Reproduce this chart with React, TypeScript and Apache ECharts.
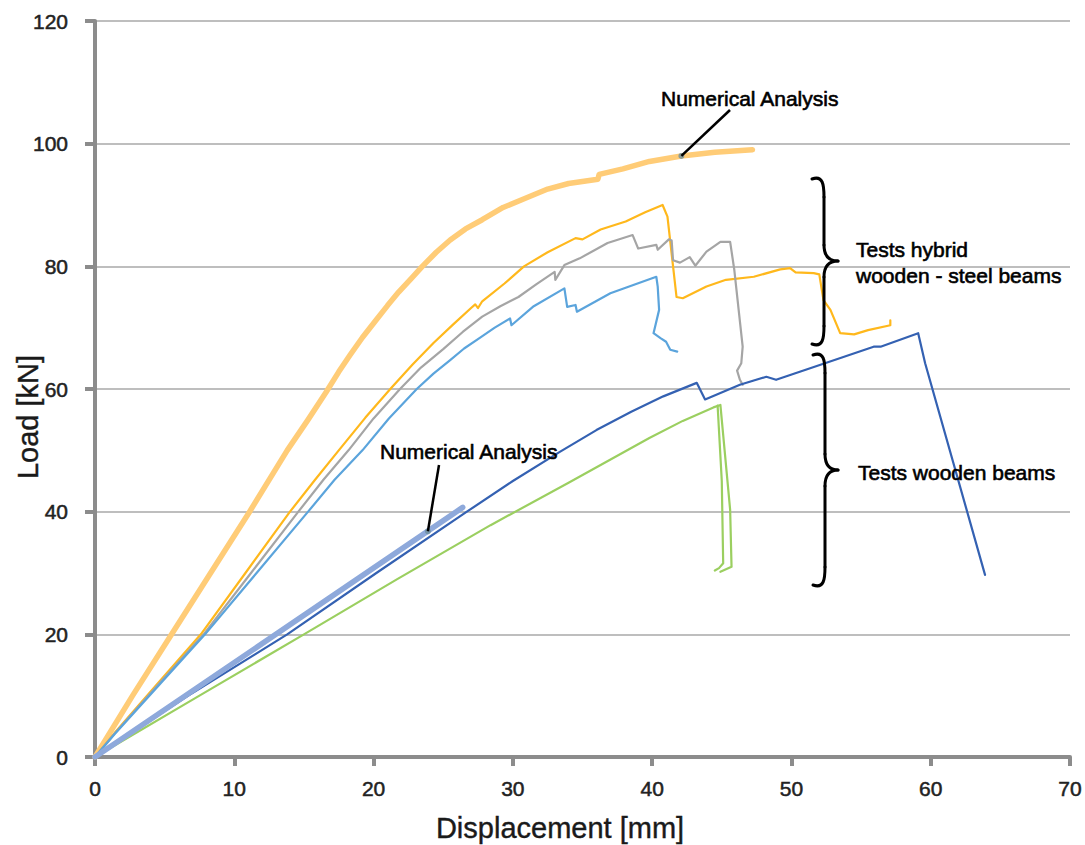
import React, { useEffect, useRef } from "react";
import * as echarts from "echarts";

// ---- Data (displacement mm, load kN) ----
const numUpper: number[][] = [
  [0, 0], [2.7, 10], [5.5, 20], [8.3, 30], [11.1, 40], [13.8, 50], [15.3, 55], [16.6, 59.5], [17.5, 62.8], [18.3, 65.5],
  [19.2, 68.4], [20.1, 71], [21.0, 73.6], [21.8, 75.8], [22.7, 78.0], [23.5, 80], [24.5, 82.3], [25.5, 84.3], [26.6, 86.1], [27.8, 87.6], [29.3, 89.6], [30.9, 91.1],
  [32.5, 92.6], [34.0, 93.5], [36.1, 94.2], [36.2, 95.0], [37.9, 95.9], [39.8, 97.1], [42.1, 98.0],
  [44.5, 98.6], [47.2, 99.0],
];
const hybOrange: number[][] = [
  [0, 0], [1.4, 3.9], [4.5, 12], [7.6, 20], [10.8, 30], [14.0, 40], [15.8, 45.2], [17.5, 50], [19.4, 55.3], [21.2, 60],
  [22.8, 64.0], [24.3, 67.5], [25.7, 70.5], [27.0, 73.2], [27.3, 73.8], [27.5, 73.2], [27.8, 74.3], [29.4, 77.2], [30.8, 80],
  [32.5, 82.3], [34.5, 84.6], [35.0, 84.4], [36.3, 86.0], [38.1, 87.3], [39.5, 88.8], [40.75, 90.0],
  [41.1, 88.1], [41.75, 75.0], [42.2, 74.8], [43.9, 76.7], [45.3, 77.8], [47.3, 78.3], [49.2, 79.5],
  [49.9, 79.7], [50.3, 79.0], [51.6, 78.9], [52.0, 78.7], [52.3, 74.5], [52.8, 72.9], [53.5, 69.1],
  [54.5, 68.9], [55.5, 69.6], [57.1, 70.4], [57.1, 71.2],
];
const hybGray: number[][] = [
  [0, 0], [1.4, 3.8], [4.6, 12], [7.8, 20], [11.2, 30], [14.6, 40], [16.4, 45.2], [18.2, 50], [20.0, 55.2], [21.9, 60], [23.4, 63.5],
  [25.0, 66.5], [26.4, 69.3], [27.8, 71.8], [29.1, 73.5], [30.4, 75.0], [31.7, 77.1], [33.0, 79.1], [33.05, 77.8], [33.7, 80.2], [34.8, 81.3],
  [36.8, 83.8], [38.6, 85.1], [39.0, 82.9], [40.3, 83.5], [40.4, 82.7], [41.2, 84.4], [41.4, 84.2],
  [41.5, 81.0], [42.0, 80.6], [42.7, 81.5], [43.1, 80.1], [43.9, 82.4], [44.9, 84.0], [45.6, 84.0],
  [45.9, 79.4], [46.5, 66.9], [46.4, 64.2], [46.1, 63.0], [46.3, 61.5], [46.5, 60.7],
];
const hybBlue: number[][] = [
  [0, 0], [1.4, 3.7], [4.7, 12], [7.9, 20], [11.6, 30], [15.3, 40], [17.2, 45.2], [19.2, 50], [21.1, 55.2], [23.1, 60], [24.3, 62.5],
  [25.5, 64.7], [26.5, 66.6], [27.6, 68.3], [28.7, 70.0], [29.8, 71.5], [29.9, 70.4], [31.5, 73.5], [33.7, 76.4], [33.9, 73.4],
  [34.5, 73.7], [34.6, 72.6], [37.0, 75.6], [38.7, 77.0], [40.3, 78.3], [40.4, 76.7], [40.5, 72.9],
  [40.1, 69.1], [40.6, 68.3], [41.0, 67.7], [41.3, 66.4], [41.8, 66.1],
];
const woodBlue: number[][] = [
  [0, 0], [6.7, 10], [13.8, 20], [20.2, 30], [26.7, 40], [30.0, 45.0], [33.4, 49.8], [36.0, 53.3], [38.5, 56.3], [40.8, 58.8], [43.2, 61.0],
  [43.8, 58.3], [46.3, 60.7], [48.2, 62.0], [48.9, 61.5], [50.6, 62.8], [53.2, 64.8], [55.9, 66.9],
  [56.4, 66.9], [59.1, 69.1], [59.6, 64.2], [63.9, 29.7],
];
const woodGreen: number[][] = [
  [0, 0], [7.5, 10], [15.0, 20], [21.7, 29], [28.4, 37.8], [34.0, 44.7], [39.8, 52.0], [42.2, 54.8],
  [44.4, 57.0], [44.9, 57.4], [45.6, 40.3], [45.7, 31.0], [45.3, 30.6], [44.9, 30.2],
];
const woodGreenUnload: number[][] = [
  [44.7, 57.3], [45.0, 45], [45.1, 31.6], [44.8, 30.8], [44.5, 30.4],
];
const numLower: number[][] = [[0, 0], [26.4, 40.7]];

// annotation anchor points on the numerical curves
const annotPoints: number[][] = [[42.1, 98.0], [23.9, 36.8]];
const annotLabels: string[] = ["Numerical Analysis", "Numerical Analysis"];

const xTitle = "Displacement [mm]";
const yTitle = "Load [kN]";

const FONT = "'Liberation Sans', Arial, Helvetica, sans-serif";

function brace(xL: number, xM: number, xT: number, yTop: number, yTip: number, yBot: number) {
  const st = { stroke: "#000", lineWidth: 3, lineCap: "round", fill: "none" };
  return [
    { type: "bezierCurve", silent: true, z: 50, shape: { x1: xL, y1: yTop, cpx1: xM - 1, cpy1: yTop - 4, cpx2: xM, cpy2: yTop + 6, x2: xM, y2: yTop + 18 }, style: st },
    { type: "line", silent: true, z: 50, shape: { x1: xM, y1: yTop + 18, x2: xM, y2: yTip - 16 }, style: st },
    { type: "bezierCurve", silent: true, z: 50, shape: { x1: xM, y1: yTip - 16, cpx1: xM, cpy1: yTip - 4, cpx2: xT - 8, cpy2: yTip, x2: xT, y2: yTip }, style: st },
    { type: "bezierCurve", silent: true, z: 50, shape: { x1: xT, y1: yTip, cpx1: xT - 8, cpy1: yTip, cpx2: xM, cpy2: yTip + 4, x2: xM, y2: yTip + 16 }, style: st },
    { type: "line", silent: true, z: 50, shape: { x1: xM, y1: yTip + 16, x2: xM, y2: yBot - 18 }, style: st },
    { type: "bezierCurve", silent: true, z: 50, shape: { x1: xM, y1: yBot - 18, cpx1: xM, cpy1: yBot - 6, cpx2: xM - 1, cpy2: yBot + 4, x2: xL, y2: yBot }, style: st },
  ];
}

function lineSeries(name: string, data: number[][], color: string, width: number, z = 2) {
  return {
    name,
    type: "line",
    data,
    showSymbol: false,
    symbol: "none",
    smooth: false,
    z,
    lineStyle: { color, width, join: "round", cap: "round" },
    emphasis: { disabled: true },
  };
}

export default function App() {
  const ref = useRef<HTMLDivElement>(null);
  useEffect(() => {
    if (!ref.current) return;
    const chart = echarts.init(ref.current, undefined, { renderer: "svg" });
    const axisColor = "#8c8c8c";
    const labelStyle = { fontSize: 21, color: "#222", fontFamily: FONT, textBorderColor: "#222", textBorderWidth: 0.5 };
    chart.setOption({
      animation: false,
      backgroundColor: "#ffffff",
      grid: { left: 95, right: 15, top: 21, bottom: 88, containLabel: false, outerBoundsMode: "none" },
      xAxis: {
        type: "value", min: 0, max: 70, interval: 10,
        name: xTitle, nameLocation: "middle", nameGap: 56, nameMoveOverlap: false,
        nameTextStyle: { fontSize: 29, color: "#1a1a1a", fontFamily: FONT, textBorderColor: "#1a1a1a", textBorderWidth: 0.4, padding: [0, 45, 0, 0] },
        axisLine: { show: true, onZero: false, lineStyle: { color: axisColor, width: 4 } },
        axisTick: { show: true, length: 9, lineStyle: { color: axisColor, width: 4 } },
        axisLabel: { ...labelStyle, margin: 21 },
        splitLine: { show: false },
      },
      yAxis: {
        type: "value", min: 0, max: 120, interval: 20,
        name: yTitle, nameLocation: "middle", nameGap: 53, nameRotate: 90, nameMoveOverlap: false,
        nameTextStyle: { fontSize: 29, color: "#1a1a1a", fontFamily: FONT, textBorderColor: "#1a1a1a", textBorderWidth: 0.4, padding: [0, 56, 0, 0] },
        axisLine: { show: true, onZero: false, lineStyle: { color: axisColor, width: 4 } },
        axisTick: { show: true, length: 10, lineStyle: { color: axisColor, width: 4 } },
        axisLabel: { ...labelStyle, margin: 27 },
        splitLine: { show: true, lineStyle: { color: "#a8a8a8", width: 1.5 } },
      },
      series: [
        lineSeries("Test hybrid 1", hybOrange, "#FFB81C", 2.2, 3),
        lineSeries("Test hybrid 2", hybGray, "#A5A5A5", 2.2, 3),
        lineSeries("Test hybrid 3", hybBlue, "#5BA4DC", 2.2, 3),
        lineSeries("Test wooden 1", woodBlue, "#3461B2", 2.2, 3),
        lineSeries("Test wooden 2", woodGreen, "#9BCF60", 2.2, 3),
        lineSeries("Test wooden 2 unload", woodGreenUnload, "#9BCF60", 2.2, 3),
        lineSeries("Numerical hybrid", numUpper, "#FFCC77", 5.5, 2),
        lineSeries("Numerical wooden", numLower, "#8EA9DB", 5.5, 4),
        {
          name: "anchors", type: "scatter", data: annotPoints, symbol: "circle", symbolSize: 6, z: 10,
          itemStyle: { color: "#6E8F9C" }, silent: true,
        },
      ],
    });

    const p0 = chart.convertToPixel({ gridIndex: 0 }, annotPoints[0]) as number[];
    const p1 = chart.convertToPixel({ gridIndex: 0 }, annotPoints[1]) as number[];
    const textStyle = (t: string, x: number, y: number) => ({
      type: "text", silent: true, z: 60, x, y,
      style: { text: t, fontSize: 21, fontFamily: FONT, fill: "#000", stroke: "#000", lineWidth: 0.6, textAlign: "left", textVerticalAlign: "middle" },
    });
    chart.setOption({
      graphic: [
        textStyle(annotLabels[0], 661, 98),
        { type: "line", silent: true, z: 55, shape: { x1: 730, y1: 110, x2: p0[0], y2: p0[1] }, style: { stroke: "#000", lineWidth: 2.5 } },
        textStyle(annotLabels[1], 380, 451),
        { type: "line", silent: true, z: 55, shape: { x1: 439, y1: 465, x2: p1[0], y2: p1[1] }, style: { stroke: "#000", lineWidth: 2.5 } },
        ...brace(812, 824, 838, 179, 261, 344),
        ...brace(813, 825, 838, 355, 470, 585),
        textStyle("Tests hybrid", 856, 249),
        textStyle("wooden - steel beams", 856, 275),
        textStyle("Tests wooden beams", 858, 472),
      ],
    });
    return () => chart.dispose();
  }, []);
  return <div ref={ref} style={{ position: "fixed", left: 0, top: 0, width: 1085, height: 845, background: "#fff" }} />;
}
